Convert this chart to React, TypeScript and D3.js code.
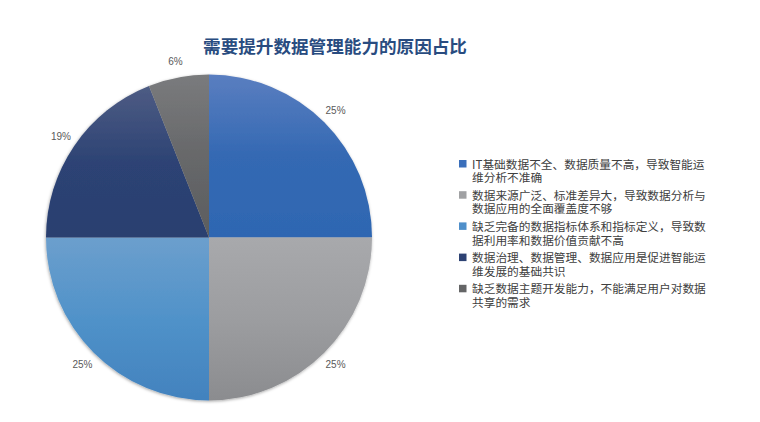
import React from "react";
import * as d3 from "d3";

const title = "需要提升数据管理能力的原因占比";
const categories = [
  "IT基础数据不全、数据质量不高，导致智能运\n维分析不准确",
  "数据来源广泛、标准差异大，导致数据分析与\n数据应用的全面覆盖度不够",
  "缺乏完备的数据指标体系和指标定义，导致数\n据利用率和数据价值贡献不高",
  "数据治理、数据管理、数据应用是促进智能运\n维发展的基础共识",
  "缺乏数据主题开发能力，不能满足用户对数据\n共享的需求",
];
const values = [25, 25, 25, 19, 6];
const valueLabels = ["25%", "25%", "25%", "19%", "6%"];
const legendColors = ["#3a6fbb", "#a0a1a3", "#4f8fca", "#2d4273", "#646566"];
const gradTop = ["#5a7ec0", "#a8a9ac", "#6c9fcd", "#4e5c84", "#7a7b7d"];
const gradMid = ["#3469b3", "#9c9da0", "#5092c9", "#2d4374", "#67686a"];
const gradBottom = ["#2e66b2", "#8b8c8f", "#4282be", "#2a3f70", "#5b5d5f"];

export default function App() {
  const W = 760, H = 422;
  const cx = 209, cy = 237.5, r = 163, lr = 179;
  const pie = d3.pie<number>().sort(null).value((d) => d);
  const arcs = pie(values);
  const arc = d3.arc<d3.PieArcDatum<number>>().innerRadius(0).outerRadius(r);
  const labelArc = d3.arc<d3.PieArcDatum<number>>().innerRadius(lr).outerRadius(lr);

  const legendX = 459, legendY0 = 160, itemGap = 31.2, lineH = 13.6;

  return (
    <svg width={W} height={H} style={{ position: "absolute", left: 0, top: 0, background: "#fff" }}>
      <defs>
        {arcs.map((_, i) => (
          <linearGradient key={i} id={`g${i}`} x1="0" y1="0" x2="0" y2="1">
            <stop offset="0" stopColor={gradTop[i]} />
            <stop offset="0.5" stopColor={gradMid[i]} />
            <stop offset="1" stopColor={gradBottom[i]} />
          </linearGradient>
        ))}
        <filter id="sh" x="-10%" y="-10%" width="120%" height="120%">
          <feDropShadow dx="-0.5" dy="1" stdDeviation="1.6" floodColor="#000" floodOpacity="0.35" />
        </filter>
      </defs>
      <text x={335} y={52.5} textAnchor="middle" fontFamily="'Noto Sans CJK SC', sans-serif" fontWeight="bold" fontSize={17.6} fill="#294c80">
        {title}
      </text>
      <g transform={`translate(${cx},${cy})`}>
        <g filter="url(#sh)">
          {arcs.map((a, i) => (
            <path key={i} d={arc(a) || ""} fill={`url(#g${i})`} />
          ))}
        </g>
        {arcs.map((a, i) => {
          const [x, y] = labelArc.centroid(a);
          return (
            <text key={i} x={x} y={y} dy="0.35em" textAnchor="middle" fontFamily="'Liberation Sans', Arial, sans-serif" fontSize={10} fill="#595959">
              {valueLabels[i]}
            </text>
          );
        })}
      </g>
      <g>
        {categories.map((c, i) => {
          const y = legendY0 + i * itemGap;
          return (
            <g key={i}>
              <rect x={legendX} y={y} width={7.5} height={7.5} fill={legendColors[i]} />
              <text x={472} y={y + 8.6} fontFamily="'Noto Sans CJK SC', sans-serif" fontSize={11.7} fill="#404040">
                {c.split("\n").map((line, j) => (
                  <tspan key={j} x={472} dy={j === 0 ? 0 : lineH}>
                    {line}
                  </tspan>
                ))}
              </text>
            </g>
          );
        })}
      </g>
    </svg>
  );
}
